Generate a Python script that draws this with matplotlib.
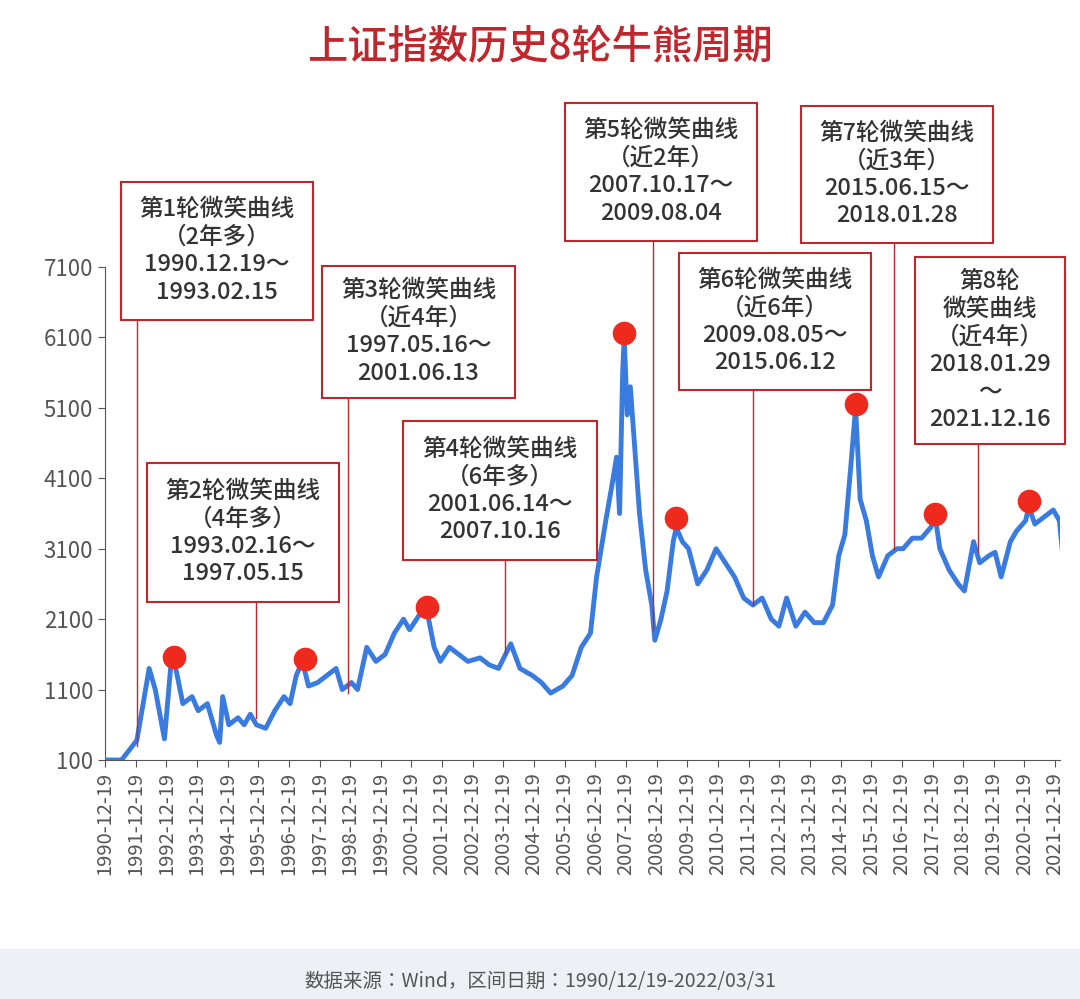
import matplotlib
matplotlib.use("Agg")
import matplotlib.pyplot as plt
from matplotlib import font_manager as fm
from matplotlib.patches import Rectangle
from matplotlib.lines import Line2D

cjk = [f for f in fm.fontManager.ttflist if "CJK" in f.name or "CJK" in f.fname]
names = []
for pref in ["SC", "JP", "TC", "KR", ""]:
    for f in cjk:
        if pref in f.name and f.name not in names:
            names.append(f.name)
if not names:
    import glob
    for p in glob.glob("/usr/share/fonts/**/*CJK*", recursive=True):
        try:
            fm.fontManager.addfont(p)
        except Exception:
            pass
    names = [f.name for f in fm.fontManager.ttflist if "CJK" in f.name]
plt.rcParams["font.family"] = names[:1] + ["DejaVu Sans"]

years = [1990.96,1991.5,1992.0,1992.4,1992.6,1992.9,1993.1,1993.2,1993.5,1993.8,1994.0,1994.3,1994.5,1994.6,1994.7,
 1994.8,1995.0,1995.3,1995.5,1995.7,1995.9,1996.2,1996.5,1996.8,1997.0,1997.2,1997.4,1997.6,1997.9,1998.2,1998.5,1998.7,
 1999.0,1999.2,1999.5,1999.8,2000.1,2000.4,2000.7,2000.9,2001.2,2001.45,2001.7,2001.9,2002.2,2002.5,2002.8,2003.2,2003.5,
 2003.8,2004.2,2004.5,2004.9,2005.2,2005.5,2005.9,2006.2,2006.5,2006.8,2007.0,2007.3,2007.5,2007.65,2007.75,2007.85,2007.9,
 2008.0,2008.1,2008.2,2008.4,2008.6,2008.8,2008.9,2009.1,2009.3,2009.5,2009.6,2009.8,2010.0,2010.3,2010.6,2010.9,2011.2,
 2011.5,2011.8,2012.1,2012.4,2012.7,2012.95,2013.2,2013.5,2013.8,2014.1,2014.4,2014.7,2014.9,2015.1,2015.3,2015.45,2015.6,
 2015.8,2016.0,2016.2,2016.5,2016.8,2017.0,2017.3,2017.6,2017.9,2018.05,2018.2,2018.5,2018.8,2019.0,2019.3,2019.5,2019.8,
 2020.0,2020.2,2020.5,2020.7,2021.0,2021.1,2021.3,2021.6,2021.9,2022.1,2022.2]
values = [100,100,380,1400,1100,400,1400,1550,900,1000,800,900,600,450,350,
 1000,600,700,600,750,600,550,800,1000,900,1300,1500,1150,1200,1300,1400,1100,
 1200,1100,1700,1500,1600,1900,2100,1950,2150,2250,1700,1500,1700,1600,1500,1550,1450,
 1400,1750,1400,1300,1200,1050,1150,1300,1700,1900,2700,3500,4000,4400,3600,5600,6100,
 5000,5400,4800,3600,2800,2300,1800,2100,2500,3200,3400,3200,3100,2600,2800,3100,2900,
 2700,2400,2300,2400,2100,2000,2400,2000,2200,2050,2050,2300,3000,3300,4300,5100,3800,
 3500,3000,2700,3000,3100,3100,3250,3250,3400,3550,3100,2800,2600,2500,3200,2900,3000,
 3050,2700,3200,3350,3500,3700,3450,3550,3650,3500,3050]

peak_years = [1993.2, 1997.5, 2001.45, 2007.9, 2009.6, 2015.45, 2018.05, 2021.1]
peak_values = [1560, 1530, 2270, 6160, 3530, 5150, 3600, 3780]

xtick_years = list(range(1990, 2022))
xtick_labels = [f"{y}-12-19" for y in xtick_years]
yticks = [100, 1100, 2100, 3100, 4100, 5100, 6100, 7100]

box_texts = [
 "第1轮微笑曲线\n（2年多）\n1990.12.19～\n1993.02.15",
 "第2轮微笑曲线\n（4年多）\n1993.02.16～\n1997.05.15",
 "第3轮微笑曲线\n（近4年）\n1997.05.16～\n2001.06.13",
 "第4轮微笑曲线\n（6年多）\n2001.06.14～\n2007.10.16",
 "第5轮微笑曲线\n（近2年）\n2007.10.17～\n2009.08.04",
 "第6轮微笑曲线\n（近6年）\n2009.08.05～\n2015.06.12",
 "第7轮微笑曲线\n（近3年）\n2015.06.15～\n2018.01.28",
 "第8轮\n微笑曲线\n（近4年）\n2018.01.29\n～\n2021.12.16",
]
conn_years = [1992.0, 1995.9, 1998.9, 2004.0, 2008.84, 2012.1, 2016.7, 2019.45]
conn_values = [300, 700, 1050, 1600, 1950, 2300, 3100, 3050]
boxes_px = [(121,182,313,320),(147,463,339,602),(322,266,515,398),(403,421,597,560),
            (565,103,757,241),(679,253,871,390),(801,106,993,243),(915,257,1065,444)]

W, H = 1080, 999
fig = plt.figure(figsize=(W/100, H/100), dpi=100)
fig.patch.set_facecolor("white")
fig.patches.append(Rectangle((0, 0), 1, 50/H, transform=fig.transFigure, color="#eef0f5", zorder=0))
ax = fig.add_axes([105/W, 1-760/H, 955/W, 493/H])
ax.plot(years, values, color="#3a7be0", lw=3.5, zorder=3, solid_joinstyle="round")
ax.plot(peak_years, peak_values, "o", color="#ee2a1f", ms=16, zorder=4)
ax.set_xlim(1990.96, 2022.12)
ax.set_ylim(100, 7100)
ax.set_yticks(yticks)
ax.set_yticklabels([str(v) for v in yticks], fontsize=16, color="#333")
ax.set_xticks([y + 0.96 for y in xtick_years])
ax.set_xticklabels(xtick_labels, rotation=90, fontsize=14.5, color="#333")
for s in ["top", "right"]:
    ax.spines[s].set_visible(False)
ax.spines["left"].set_color("#555")
ax.spines["bottom"].set_color("#555")
ax.tick_params(colors="#555", length=5)
ax.set_facecolor("white")

fig.text(0.5, 1-47/H, "上证指数历史8轮牛熊周期", ha="center", va="center",
         fontsize=29, color="#c0272d", fontweight="medium")
fig.text(0.5, 1-982/H, "数据来源：Wind，区间日期：1990/12/19-2022/03/31",
         ha="center", va="center", fontsize=14, color="#555")

fig.canvas.draw()
inv = fig.transFigure.inverted()
for txt, (l, t, r, b), cy, cv in zip(box_texts, boxes_px, conn_years, conn_values):
    fig.patches.append(Rectangle((l/W, 1-b/H), (r-l)/W, (b-t)/H, transform=fig.transFigure,
                                 facecolor="white", edgecolor="#c0272d", lw=1.5, zorder=5))
    fig.text((l+r)/2/W, 1-(t+b)/2/H, txt, ha="center", va="center", fontsize=17,
             color="#333", linespacing=1.25, zorder=6, fontweight="medium")
    px, py = inv.transform(ax.transData.transform((cy, cv)))
    fig.lines.append(Line2D([px, px], [py, 1-b/H], transform=fig.transFigure,
                            color="#c0272d", lw=1, zorder=2))

fig.savefig("out.png", dpi=100)
